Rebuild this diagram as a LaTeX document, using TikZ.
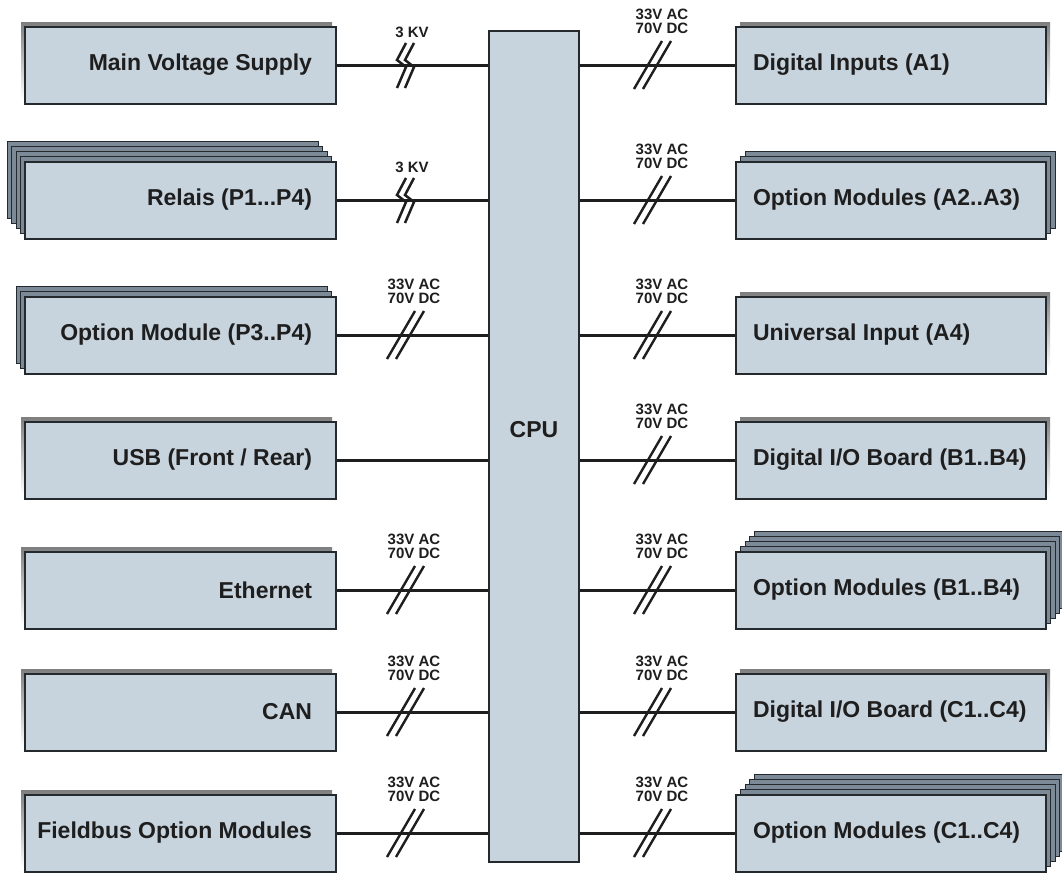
\documentclass[tikz,border=0pt]{standalone}
\usepackage{fontspec}
\setmainfont{Liberation Sans}
\definecolor{boxfill}{HTML}{C7D3DD}
\definecolor{shade}{HTML}{7B8A96}
\definecolor{edge}{HTML}{24292D}
\definecolor{ink}{HTML}{1E1E1E}
\newcommand\rtxt[1]{\hbox to 263pt{\hss #1}}
\newcommand\ltxt[1]{\hbox to 276pt{#1\hss}}
\begin{document}
\begin{tikzpicture}[x=1pt,y=-1pt,
  box/.style={draw=edge, line width=2pt, fill=boxfill, minimum height=77pt, text=ink,
    font=\fontsize{23}{26}\selectfont\bfseries},
  lbox/.style={box, inner xsep=24pt},
  rbox/.style={box, inner xsep=17pt},
  cpubox/.style={draw=edge, line width=2.5pt, fill=boxfill, minimum width=90pt, minimum height=831pt},
  layer/.style={fill=shade, draw=edge, line width=0.9pt},
  wire/.style={draw=ink, line width=3pt},
  lbl/.style={font=\fontsize{15}{12}\selectfont\bfseries, inner sep=0pt, text=ink,
    text height=11pt, text depth=0pt, anchor=base},
  slashmark/.pic={
    \draw[ink, line width=2.4pt] (-18.5,24) -- (9.5,-24);
    \draw[ink, line width=2.4pt] (-9.5,24) -- (18.5,-24);
  },
  zigmark/.pic={
    \draw[ink, line width=2.5pt, line join=miter] (4,-22) -- (-5,-5) -- (4,2) -- (-5,23);
    \draw[ink, line width=2.5pt, line join=miter] (12,-22) -- (3,-5) -- (12,2) -- (3,23);
  }
]
\useasboundingbox (0,0) rectangle (1062,873);
\fill[white] (0,0) rectangle (1062,873);

% ---- shadows / stacked layers (left: up-left, right: up-right)
\foreach \yy in {65,460,590,712,833} {
  \fill[shade] (21,\yy-42.5) rectangle (332,\yy+34.5);
}
\foreach \yy/\n in {200/4,335/2} {
  \foreach \k in {\n,...,1} {
    \draw[layer] (25-4.5*\k,\yy-38.5-5*\k) rectangle (336-4.5*\k,\yy+38.5-5*\k);
  }
}
\foreach \yy in {65,335,460,712} {
  \fill[shade] (740,\yy-42.5) rectangle (1050,\yy+34.5);
}
\foreach \yy/\n in {200/2,590/4,833/4} {
  \foreach \k in {\n,...,1} {
    \draw[layer] (736+4.5*\k,\yy-38.5-5*\k) rectangle (1046+4.5*\k,\yy+38.5-5*\k);
  }
}

% ---- CPU
\node[cpubox] (cpu) at (534,446.5) {};
\node[font=\fontsize{23}{26}\selectfont\bfseries, text=ink] (cpulbl) at (534,430) {CPU};

% ---- left boxes
\node[lbox] (l1) at (180.5,65)  {\rtxt{Main Voltage Supply}};
\node[lbox] (l2) at (180.5,200) {\rtxt{Relais (P1...P4)}};
\node[lbox] (l3) at (180.5,335) {\rtxt{Option Module (P3..P4)}};
\node[lbox] (l4) at (180.5,460) {\rtxt{USB (Front / Rear)}};
\node[lbox] (l5) at (180.5,590) {\rtxt{Ethernet}};
\node[lbox] (l6) at (180.5,712) {\rtxt{CAN}};
\node[lbox] (l7) at (180.5,833) {\rtxt{Fieldbus Option Modules}};

% ---- right boxes
\node[rbox] (r1) at (891,65)  {\ltxt{Digital Inputs (A1)}};
\node[rbox] (r2) at (891,200) {\ltxt{Option Modules (A2..A3)}};
\node[rbox] (r3) at (891,335) {\ltxt{Universal Input (A4)}};
\node[rbox] (r4) at (891,460) {\ltxt{Digital I/O Board (B1..B4)}};
\node[rbox] (r5) at (891,590) {\ltxt{Option Modules (B1..B4)}};
\node[rbox] (r6) at (891,712) {\ltxt{Digital I/O Board (C1..C4)}};
\node[rbox] (r7) at (891,833) {\ltxt{Option Modules (C1..C4)}};

% ---- connectors
\foreach \i in {1,...,7} {
  \draw[wire] (l\i.east) -- (l\i.east -| cpu.west);
  \draw[wire] (r\i.west -| cpu.east) -- (r\i.west);
}

% ---- break marks and labels, left side
\foreach \yy [count=\j] in {65,200} {
  \pic at (402,\yy) {zigmark};
  \node[lbl] (lk\j) at (412,\yy-27.5) {3 KV};
}
\foreach \yy [count=\j] in {335,590,712,833} {
  \pic at (405.5,\yy) {slashmark};
  \node[lbl] (lva\j) at (414,\yy-45.5) {33V AC};
  \node[lbl] (lvb\j) at (414,\yy-32) {70V DC};
}
% ---- right side
\foreach \yy [count=\j] in {65,200,335,460,590,712,833} {
  \pic at (652.5,\yy) {slashmark};
  \node[lbl] (rva\j) at (662,\yy-45.5) {33V AC};
  \node[lbl] (rvb\j) at (662,\yy-32) {70V DC};
}
\end{tikzpicture}
\end{document}
